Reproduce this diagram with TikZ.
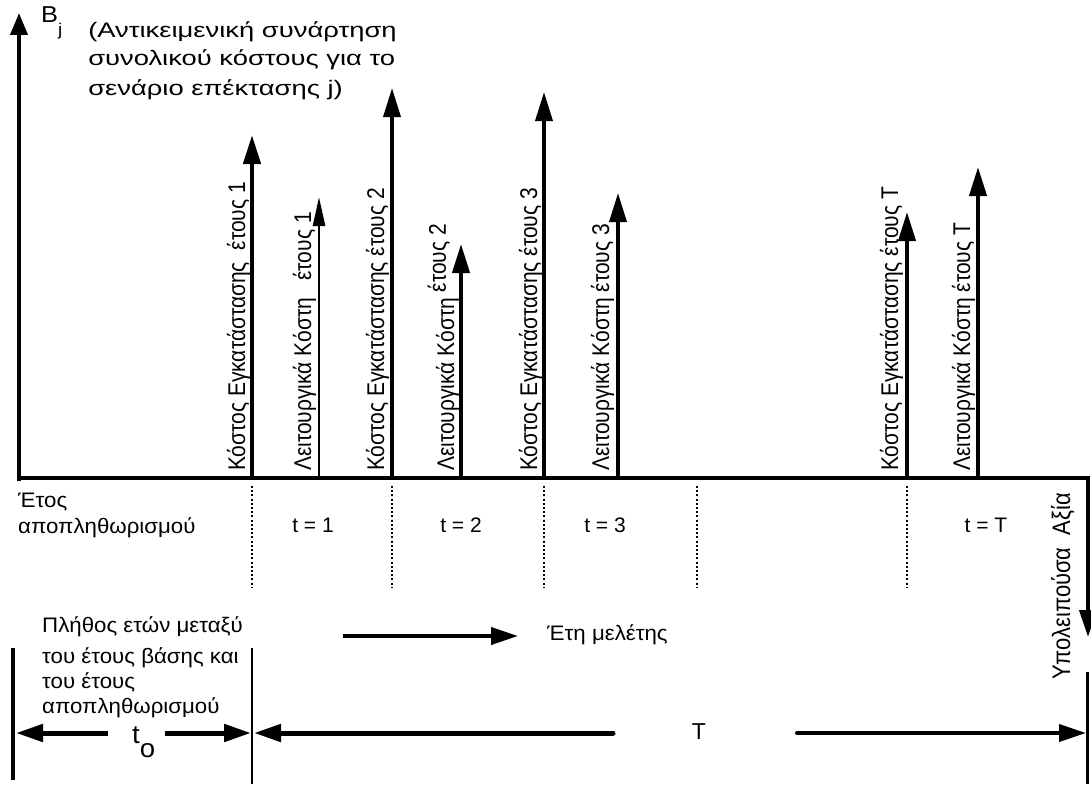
\documentclass[tikz,border=0pt]{standalone}
\usepackage{fontspec}
\setmainfont{Liberation Sans}
\usetikzlibrary{arrows.meta}

\begin{document}
\begin{tikzpicture}[x=1pt,y=-1pt,
  txt/.style={font=\fontsize{21}{24}\selectfont, inner sep=0pt, anchor=base west, xscale=1.06},
  wide/.style={txt, xscale=1.23},
  vlbl/.style={font=\fontsize{21}{24}\selectfont, inner sep=0pt, anchor=base west, xscale=1.15, rotate=90},
  tick/.style={font=\fontsize{21}{24}\selectfont, inner sep=0pt, anchor=base},
  bar/.style={line width=#1},
  cost/.style={line width=#1},
  guide/.style={line width=2.4pt, dash pattern=on 2pt off 2.2pt},
  tipA/.style={-{Triangle[length=29pt,width=17pt]}},
  tipB/.style={-{Triangle[length=29pt,width=12pt]}},
  tipC/.style={-{Triangle[length=27pt,width=17pt]}}
]
\path[use as bounding box, fill=white] (0,0) rectangle (1091,784);

% axes
\coordinate (O) at (19,478);
\coordinate (Ytop) at (19,13);
\coordinate (Xend) at (1088,478);
\coordinate (Rv) at (1088,637);
\draw[line width=4pt, -{Triangle[length=22pt,width=17pt]}] (19,481) -- (Ytop);
\draw[line width=4pt, miter limit=10, tipC] (17,478) -- (Xend) -- (Rv);

\node[txt, xscale=1.04] (bj) at (41,23) {\fontsize{23}{24}\selectfont B\raisebox{-13pt}{\fontsize{17}{18}\selectfont j}};
\node[wide] (obj1) at (88,37.5) {(Αντικειμενική συνάρτηση};
\node[wide] (obj2) at (88,66) {συνολικού κόστους για το};
\node[wide] (obj3) at (88,95) {σενάριο επέκτασης j)};

% cost arrows, from the time axis upwards
\coordinate (a1b) at (252,478); \coordinate (a1t) at (252,135);
\coordinate (a2b) at (319,478); \coordinate (a2t) at (319,197);
\coordinate (a3b) at (392,478); \coordinate (a3t) at (392,88);
\coordinate (a4b) at (461,478); \coordinate (a4t) at (461,244);
\coordinate (a5b) at (544,478); \coordinate (a5t) at (544,92);
\coordinate (a6b) at (618,478); \coordinate (a6t) at (618,193);
\coordinate (a7b) at (907,478); \coordinate (a7t) at (907,212);
\coordinate (a8b) at (978,478); \coordinate (a8t) at (978,167);
\draw[cost=4.5pt, tipA] (a1b) -- (a1t);
\draw[cost=2.5pt, tipB] (a2b) -- (a2t);
\draw[cost=3.5pt, tipA] (a3b) -- (a3t);
\draw[cost=4pt, tipA] (a4b) -- (a4t);
\draw[cost=3.5pt, tipA] (a5b) -- (a5t);
\draw[cost=3.5pt, tipA] (a6b) -- (a6t);
\draw[cost=4pt, tipA] (a7b) -- (a7t);
\draw[cost=4pt, tipA] (a8b) -- (a8t);

\node[vlbl] (l1) at (245,471) {Κόστος Εγκατάστασης\ \ έτους 1};
\node[vlbl] (l2) at (311,471) {Λειτουργικά Κόστη\ \ \ έτους 1};
\node[vlbl] (l3) at (384,471) {Κόστος Εγκατάστασης έτους 2};
\node[vlbl] (l4) at (454,471) {Λειτουργικά Κόστη \raisebox{7pt}{έτους 2}};
\node[vlbl] (l5) at (537,471) {Κόστος Εγκατάστασης έτους 3};
\node[vlbl] (l6) at (609,471) {Λειτουργικά Κόστη έτους 3};
\node[vlbl] (l7) at (898,471) {Κόστος Εγκατάστασης έτους T};
\node[vlbl] (l8) at (970,471) {Λειτουργικά Κόστη έτους T};

\node[vlbl, font=\fontsize{22}{24}\selectfont] (rv) at (1070,680) {Υπολειπούσα\ \ Αξία};

% year boundaries
\foreach \g/\x in {g1/252,g2/392,g3/544,g4/697,g5/907}{
  \coordinate (\g a) at (\x,486);
  \coordinate (\g b) at (\x,587);
  \draw[guide] (\g a) -- (\g b);
}

\node[txt] (yr1) at (18,507) {Έτος};
\node[txt] (yr2) at (18,533) {αποπληθωρισμού};
\node[tick] (t1) at (313,532) {t = 1};
\node[tick] (t2) at (461,532) {t = 2};
\node[tick] (t3) at (605,532) {t = 3};
\node[tick] (tT) at (986,532) {t = T};

% study years
\coordinate (s0) at (343,636);
\coordinate (s1) at (518,636);
\draw[line width=4pt, tipC] (s0) -- (s1);
\node[txt] (st) at (547,640) {Έτη μελέτης};

\node[txt] (p1) at (42,632) {Πλήθος ετών μεταξύ};
\node[txt] (p2) at (42,663) {του έτους βάσης και};
\node[txt] (p3) at (42,688) {του έτους};
\node[txt] (p4) at (42,713) {αποπληθωρισμού};

% bottom spans
\coordinate (b0t) at (13,648); \coordinate (b0b) at (13,780);
\coordinate (b1t) at (252,648); \coordinate (b1b) at (252,784);
\coordinate (b2t) at (1087,672); \coordinate (b2b) at (1087,784);
\draw[bar=4pt] (b0t) -- (b0b);
\draw[bar=2pt] (b1t) -- (b1b);
\draw[bar=3pt] (b2t) -- (b2b);

\node[txt, font=\fontsize{26}{28}\selectfont] (to) at (132,743) {t\raisebox{-14pt}{o}};
\coordinate (to0) at (108,733); \coordinate (to1) at (16,733);
\coordinate (to2) at (165,733); \coordinate (to3) at (251,733);
\draw[line width=5pt, tipC] (to0) -- (to1);
\draw[line width=5pt, tipC] (to2) -- (to3);

\node[tick, font=\fontsize{23}{24}\selectfont] (T) at (699,739) {T};
\coordinate (T0) at (613,733); \coordinate (T1) at (254,733);
\coordinate (T2) at (797,733); \coordinate (T3) at (1086,733);
\draw[line width=5pt, line cap=round, tipC] (T0) -- (T1);
\draw[line width=4pt, line cap=round, tipC] (T2) -- (T3);
\end{tikzpicture}
\end{document}
